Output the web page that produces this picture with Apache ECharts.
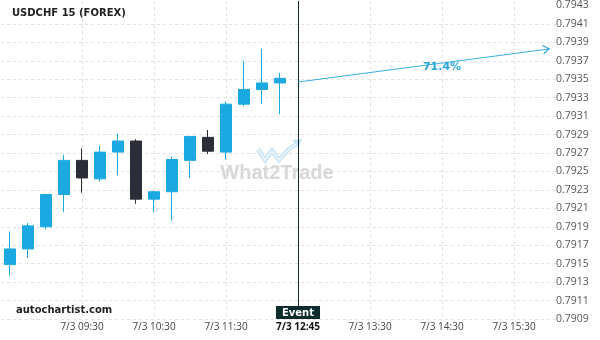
<!DOCTYPE html>
<html><head><meta charset="utf-8">
<script src="https://cdn.jsdelivr.net/npm/echarts@6/dist/echarts.min.js"></script>
<style>html,body{margin:0;padding:0;background:#fff}#c{width:600px;height:340px}</style>
</head><body><div id="c"></div>
<script>
// ---- data ----
const categories = ['7/3 08:30','7/3 08:45','7/3 09:00','7/3 09:15','7/3 09:30','7/3 09:45','7/3 10:00','7/3 10:15',
  '7/3 10:30','7/3 10:45','7/3 11:00','7/3 11:15','7/3 11:30','7/3 11:45','7/3 12:00','7/3 12:15',
  '7/3 12:30','7/3 12:45','7/3 13:00','7/3 13:15','7/3 13:30','7/3 13:45','7/3 14:00','7/3 14:15',
  '7/3 14:30','7/3 14:45','7/3 15:00','7/3 15:15','7/3 15:30','7/3 15:45','7/3 16:00'];
const openVals  = [0.79149,0.79166,0.79190,0.79225,0.79262,0.79242,0.79271,0.79283,0.79220,0.79228,0.79262,0.79287,0.79271,0.79323,0.79339,0.79346];
const closeVals = [0.79166,0.79191,0.79225,0.79262,0.79243,0.79271,0.79283,0.79220,0.79228,0.79263,0.79288,0.79272,0.79323,0.79339,0.79346,0.79351];
const lowVals   = [0.79137,0.79156,0.79187,0.79206,0.79227,0.79239,0.79246,0.79215,0.79206,0.79197,0.79243,0.79269,0.79263,0.79321,0.79323,0.79312];
const highVals  = [0.79185,0.79194,0.79226,0.79268,0.79275,0.79278,0.79291,0.79285,0.79229,0.79266,0.79288,0.79295,0.79326,0.79370,0.79383,0.79357];
const yMin = 0.7909, yMax = 0.79435, yStep = 0.0002, yTopTick = 0.7943;
const eventIndex = 16, eventLabel = '7/3 12:45', eventLineBottom = 0.79104;
const forecastStart = 0.79347, forecastEnd = 0.79383, forecastEndIndex = 30;
const probability = '71.4%', probabilityIndex = 24, probabilityValue = 0.79363;
const titleText = 'USDCHF 15 (FOREX)', footerText = 'autochartist.com';

// ---- chart ----
const chart = echarts.init(document.getElementById('c'), null, {renderer: 'canvas'});
const candleData = openVals.map((o, i) => [o, closeVals[i], lowVals[i], highVals[i]]);
const tickCount = Math.round((yTopTick - yMin) / yStep) + 1;
const splitColors = Array.from({length: tickCount}, (_, i) => i === tickCount - 1 ? 'rgba(0,0,0,0)' : '#e2e2e2');
const showTick = (i) => i > 0 && i % 4 === 0;
const blue = '#1ba9e1', dark = '#2b2d38';
const logoPts = [[258, 149], [265, 160], [272, 151], [279, 160], [288, 150], [298, 143]];

chart.setOption({
  animation: false,
  title: [
    {text: titleText, left: 12, top: 8, padding: 0, textStyle: {fontFamily: 'DejaVu Sans', fontSize: 10, fontWeight: 'bold', color: '#222'}},
    {text: footerText, left: 16, top: 305, padding: 0, textStyle: {fontFamily: 'DejaVu Sans', fontSize: 10, fontWeight: 'bold', color: '#222'}}
  ],
  grid: {left: 1, right: 41, top: 0, bottom: 21},
  xAxis: {
    type: 'category', data: categories, boundaryGap: true,
    axisLine: {show: false}, axisTick: {show: false},
    axisLabel: {
      interval: showTick, margin: 3, fontSize: 10, fontFamily: 'Open Sans', color: '#444',
      formatter: (v, i) => i === eventIndex ? '{ev|' + eventLabel + '}' : v,
      rich: {ev: {fontWeight: 'bold', color: '#111', fontSize: 10, fontFamily: 'Open Sans'}}
    },
    splitLine: {show: true, interval: showTick, alignWithLabel: true, lineStyle: {color: '#e2e2e2', type: [3, 3]}}
  },
  yAxis: {
    type: 'value', position: 'right', min: yMin, max: yMax, interval: yStep,
    axisLine: {show: false}, axisTick: {show: false},
    axisLabel: {
      margin: -3, fontSize: 10.5, fontFamily: 'Open Sans', color: '#555',
      formatter: v => { const n = (v - yMin) / yStep; return Math.abs(n - Math.round(n)) < 0.01 ? v.toFixed(4) : ''; }
    },
    splitLine: {show: true, showMaxLine: false, lineStyle: {color: splitColors, type: [3, 3]}}
  },
  graphic: [
    {type: 'polyline', z: 0, silent: true, shape: {points: logoPts},
     style: {stroke: '#c6e5f6', lineWidth: 4.5, fill: null, lineJoin: 'miter'}},
    {type: 'polyline', z: 0, silent: true, shape: {points: logoPts},
     style: {stroke: '#eef8fd', lineWidth: 1.5, fill: null, lineJoin: 'miter'}},
    {type: 'polygon', z: 0, silent: true,
     shape: {points: [[302, 139], [292, 140], [299, 147]]},
     style: {fill: '#c6e5f6'}},
    {type: 'text', z: 0, silent: true,
     style: {x: 277, y: 173, text: 'What2Trade', align: 'center', verticalAlign: 'middle',
             fill: '#d7d7d7', font: 'bold 20px "Liberation Sans"'}}
  ],
  series: [{
    type: 'candlestick',
    data: candleData,
    barWidth: 12,
    itemStyle: {color: blue, color0: dark, borderColor: blue, borderColor0: dark, borderWidth: 1},
    markLine: {
      silent: true, animation: false, symbol: 'none',
      data: [
        [
          {coord: [eventIndex, yMax], lineStyle: {color: '#0c2428', width: 1, type: 'solid'},
           label: {show: true, position: 'end', distance: 0, formatter: 'Event', color: '#fff',
                   backgroundColor: '#0d2a2d', padding: [2, 6, 1, 6], fontFamily: 'DejaVu Sans', fontWeight: 'bold', fontSize: 10}},
          {coord: [eventIndex, eventLineBottom]}
        ],
        [
          {coord: [eventIndex, forecastStart], symbol: 'none', lineStyle: {color: '#36aee3', width: 1, type: 'solid'}, label: {show: false}},
          {coord: [forecastEndIndex, forecastEnd],
           symbol: 'path://M5,0 L5,0 Z M0,14 L5,7 L10,14 L8.6,14 L5,9.2 L1.4,14 Z', symbolSize: [10, 14]}
        ]
      ]
    },
    markPoint: {
      silent: true,
      data: [{coord: [probabilityIndex, probabilityValue], symbol: 'circle', symbolSize: 1,
              itemStyle: {color: 'rgba(0,0,0,0)'},
              label: {show: true, position: 'inside', formatter: probability, color: '#29a8e0',
                      fontFamily: 'DejaVu Sans', fontWeight: 'bold', fontSize: 11}}]
    }
  }]
});
</script></body></html>
